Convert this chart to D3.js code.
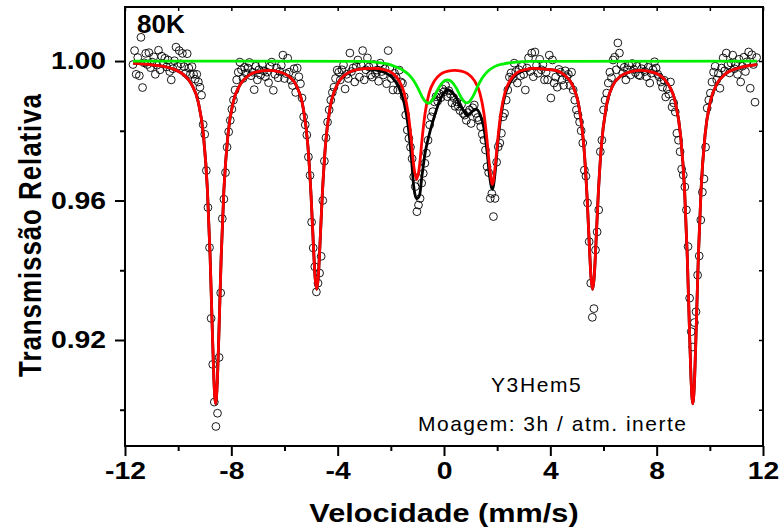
<!DOCTYPE html>
<html>
<head>
<meta charset="utf-8">
<script src="https://cdn.jsdelivr.net/npm/d3@7"></script>
<style>
  body { margin: 0; background: #fff; }
  svg { display: block; }
  text { font-family: "Liberation Sans", Arial, Helvetica, sans-serif; fill: #000; }
</style>
</head>
<body>
<svg id="chart" width="781" height="530"></svg>
<script>
// Measured spectrum: source velocity (mm/s) and relative transmission
const velocity = [
  -11.70,-11.64,-11.58,-11.52,-11.46,-11.40,-11.34,-11.28,-11.22,-11.16,
  -11.10,-11.04,-10.98,-10.92,-10.86,-10.80,-10.74,-10.68,-10.62,-10.56,
  -10.50,-10.44,-10.38,-10.32,-10.26,-10.20,-10.14,-10.08,-10.02,-9.96,
  -9.90,-9.84,-9.78,-9.72,-9.66,-9.60,-9.54,-9.48,-9.42,-9.36,
  -9.30,-9.24,-9.18,-9.12,-9.06,-9.00,-8.94,-8.88,-8.82,-8.76,
  -8.70,-8.64,-8.58,-8.52,-8.46,-8.40,-8.34,-8.28,-8.22,-8.16,
  -8.10,-8.04,-7.98,-7.92,-7.86,-7.80,-7.74,-7.68,-7.62,-7.56,
  -7.50,-7.44,-7.38,-7.32,-7.26,-7.20,-7.14,-7.08,-7.02,-6.96,
  -6.90,-6.84,-6.78,-6.72,-6.66,-6.60,-6.54,-6.48,-6.42,-6.36,
  -6.30,-6.24,-6.18,-6.12,-6.06,-6.00,-5.94,-5.88,-5.82,-5.76,
  -5.70,-5.64,-5.58,-5.52,-5.46,-5.40,-5.34,-5.28,-5.22,-5.16,
  -5.10,-5.04,-4.98,-4.92,-4.86,-4.80,-4.74,-4.68,-4.62,-4.56,
  -4.50,-4.44,-4.38,-4.32,-4.26,-4.20,-4.14,-4.08,-4.02,-3.96,
  -3.90,-3.84,-3.78,-3.72,-3.66,-3.60,-3.54,-3.48,-3.42,-3.36,
  -3.30,-3.24,-3.18,-3.12,-3.06,-3.00,-2.94,-2.88,-2.82,-2.76,
  -2.70,-2.64,-2.58,-2.52,-2.46,-2.40,-2.34,-2.28,-2.22,-2.16,
  -2.10,-2.04,-1.98,-1.92,-1.86,-1.80,-1.74,-1.68,-1.62,-1.56,
  -1.50,-1.44,-1.38,-1.32,-1.26,-1.20,-1.14,-1.08,-1.02,-0.96,
  -0.90,-0.84,-0.78,-0.72,-0.66,-0.60,-0.54,-0.48,-0.42,-0.36,
  -0.30,-0.24,-0.18,-0.12,-0.06,0.00,0.06,0.12,0.18,0.24,
  0.30,0.36,0.42,0.48,0.54,0.60,0.66,0.72,0.78,0.84,
  0.90,0.96,1.02,1.08,1.14,1.20,1.26,1.32,1.38,1.44,
  1.50,1.56,1.62,1.68,1.74,1.80,1.86,1.92,1.98,2.04,
  2.10,2.16,2.22,2.28,2.34,2.40,2.46,2.52,2.58,2.64,
  2.70,2.76,2.82,2.88,2.94,3.00,3.06,3.12,3.18,3.24,
  3.30,3.36,3.42,3.48,3.54,3.60,3.66,3.72,3.78,3.84,
  3.90,3.96,4.02,4.08,4.14,4.20,4.26,4.32,4.38,4.44,
  4.50,4.56,4.62,4.68,4.74,4.80,4.86,4.92,4.98,5.04,
  5.10,5.16,5.22,5.28,5.34,5.40,5.46,5.52,5.58,5.64,
  5.70,5.76,5.82,5.88,5.94,6.00,6.06,6.12,6.18,6.24,
  6.30,6.36,6.42,6.48,6.54,6.60,6.66,6.72,6.78,6.84,
  6.90,6.96,7.02,7.08,7.14,7.20,7.26,7.32,7.38,7.44,
  7.50,7.56,7.62,7.68,7.74,7.80,7.86,7.92,7.98,8.04,
  8.10,8.16,8.22,8.28,8.34,8.40,8.46,8.52,8.58,8.64,
  8.70,8.76,8.82,8.88,8.94,9.00,9.06,9.12,9.18,9.24,
  9.30,9.36,9.42,9.48,9.54,9.60,9.66,9.72,9.78,9.84,
  9.90,9.96,10.02,10.08,10.14,10.20,10.26,10.32,10.38,10.44,
  10.50,10.56,10.62,10.68,10.74,10.80,10.86,10.92,10.98,11.04,
  11.10,11.16,11.22,11.28,11.34,11.40,11.46,11.52,11.58,11.64,
  11.70,11.76
];
const transmission = [
  0.9990,1.0030,0.9962,1.0010,0.9958,1.0068,0.9924,0.9995,1.0022,0.9990,
  1.0024,0.9981,0.9997,1.0012,0.9962,0.9988,1.0031,0.9975,1.0014,0.9992,
  1.0008,0.9983,1.0003,0.9970,0.9946,0.9978,1.0001,1.0040,0.9985,1.0030,
  0.9992,1.0022,0.9984,0.9965,1.0021,0.9980,0.9962,0.9984,0.9962,0.9948,
  0.9962,0.9940,0.9925,0.9902,0.9818,0.9790,0.9686,0.9580,0.9465,0.9262,
  0.9130,0.9022,0.8952,0.8990,0.9150,0.9335,0.9548,0.9604,0.9680,0.9753,
  0.9797,0.9830,0.9862,0.9888,0.9917,0.9946,0.9968,0.9997,0.9975,0.9950,
  0.9982,0.9965,0.9980,0.9996,0.9958,0.9968,0.9918,0.9985,0.9946,0.9975,
  0.9960,0.9990,0.9972,0.9955,0.9968,0.9938,0.9985,0.9997,0.9916,0.9962,
  0.9980,0.9952,0.9970,0.9988,1.0017,0.9950,0.9964,1.0008,0.9968,0.9945,
  0.9930,0.9978,0.9910,0.9980,0.9955,0.9935,0.9894,0.9840,0.9817,0.9788,
  0.9725,0.9672,0.9538,0.9464,0.9410,0.9338,0.9363,0.9392,0.9440,0.9600,
  0.9713,0.9780,0.9825,0.9860,0.9888,0.9910,0.9925,0.9950,0.9974,0.9968,
  0.9946,0.9975,0.9989,0.9920,0.9962,0.9950,1.0023,0.9970,0.9980,0.9940,
  0.9985,1.0003,0.9954,0.9989,1.0030,0.9946,0.9975,1.0009,0.9983,0.9960,
  0.9954,0.9990,0.9965,0.9974,0.9942,0.9994,0.9970,0.9960,0.9978,0.9935,
  1.0030,0.9980,0.9950,0.9917,0.9965,0.9954,0.9917,0.9974,0.9940,0.9936,
  0.9898,0.9845,0.9802,0.9778,0.9753,0.9720,0.9668,0.9640,0.9568,0.9587,
  0.9606,0.9650,0.9678,0.9707,0.9736,0.9773,0.9817,0.9840,0.9855,0.9883,
  0.9898,0.9885,0.9907,0.9895,0.9920,0.9912,0.9930,0.9898,0.9915,0.9905,
  0.9880,0.9895,0.9870,0.9883,0.9870,0.9858,0.9876,0.9850,0.9845,0.9830,
  0.9852,0.9860,0.9821,0.9866,0.9874,0.9850,0.9838,0.9830,0.9812,0.9790,
  0.9773,0.9745,0.9697,0.9680,0.9606,0.9620,0.9554,0.9606,0.9710,0.9754,
  0.9765,0.9793,0.9840,0.9850,0.9888,0.9917,0.9954,0.9966,0.9950,0.9994,
  0.9970,0.9937,0.9975,0.9958,0.9985,0.9962,0.9917,0.9980,1.0009,0.9970,
  1.0023,0.9955,1.0026,0.9988,0.9965,1.0005,0.9975,0.9990,0.9946,0.9968,
  0.9946,1.0017,0.9894,1.0003,0.9937,0.9954,0.9925,0.9976,0.9968,0.9946,
  0.9930,0.9972,0.9955,0.9962,0.9930,0.9968,0.9917,0.9888,0.9860,0.9845,
  0.9825,0.9800,0.9765,0.9687,0.9670,0.9593,0.9482,0.9363,0.9265,0.9290,
  0.9458,0.9510,0.9573,0.9740,0.9773,0.9860,0.9888,0.9908,0.9937,0.9968,
  0.9952,1.0003,1.0011,0.9975,1.0052,1.0023,0.9990,0.9965,0.9982,0.9946,
  0.9975,0.9988,0.9960,0.9993,0.9976,0.9967,0.9985,0.9960,0.9958,0.9978,
  0.9990,0.9970,0.9955,0.9982,0.9937,0.9965,0.9975,0.9998,0.9980,0.9962,
  0.9954,0.9940,0.9925,0.9945,0.9897,0.9920,0.9905,0.9940,0.9868,0.9880,
  0.9854,0.9793,0.9773,0.9740,0.9690,0.9673,0.9639,0.9573,0.9468,0.9320,
  0.9224,0.9180,0.9250,0.9281,0.9386,0.9441,0.9544,0.9624,0.9662,0.9753,
  0.9865,0.9888,0.9908,0.9940,0.9968,0.9985,0.9946,0.9965,0.9922,0.9980,
  1.0009,0.9972,1.0023,0.9988,0.9966,0.9994,1.0017,0.9978,0.9992,0.9962,
  1.0005,0.9940,0.9985,1.0011,0.9970,0.9998,1.0026,0.9922,1.0018,0.9990,
  0.9882,1.0010
];

// Fitted magnetic sextet (red)
const sextetVel = [
  -11.70,-11.00,-10.30,-9.80,-9.50,-9.25,-9.05,-8.90,-8.80,-8.72,-8.66,-8.59,-8.52,-8.46,-8.38,-8.28,-8.13,-7.93,-7.68,-7.38,
  -7.00,-6.60,-6.20,-5.85,-5.55,-5.30,-5.12,-5.00,-4.91,-4.85,-4.79,-4.73,-4.67,-4.58,-4.46,-4.28,-4.03,-3.73,-3.40,-3.00,
  -2.60,-2.25,-1.95,-1.70,-1.50,-1.35,-1.23,-1.14,-1.03,-0.92,-0.83,-0.71,-0.56,-0.36,-0.11,0.15,0.40,0.65,0.90,1.15,
  1.35,1.50,1.62,1.71,1.82,1.93,2.02,2.14,2.29,2.49,2.74,3.04,3.40,3.80,4.20,4.53,4.83,5.08,5.26,5.38,
  5.47,5.53,5.59,5.65,5.71,5.80,5.92,6.10,6.35,6.65,7.00,7.40,7.78,8.10,8.42,8.70,8.90,9.05,9.15,9.23,
  9.29,9.36,9.43,9.49,9.57,9.67,9.82,10.02,10.27,10.57,11.07,11.77
];
const sextetFit = [
  0.9994,0.9989,0.9980,0.9961,0.9934,0.9884,0.9788,0.9631,0.9443,0.9240,0.9095,0.9017,0.9094,0.9239,0.9442,0.9630,0.9787,0.9882,0.9931,0.9957,
  0.9970,0.9973,0.9969,0.9957,0.9929,0.9867,0.9757,0.9613,0.9467,0.9380,0.9345,0.9380,0.9467,0.9613,0.9758,0.9868,0.9930,0.9960,0.9973,0.9978,
  0.9979,0.9975,0.9966,0.9945,0.9909,0.9852,0.9773,0.9701,0.9660,0.9700,0.9772,0.9851,0.9908,0.9943,0.9963,0.9971,0.9973,0.9971,0.9963,0.9943,
  0.9908,0.9851,0.9772,0.9700,0.9646,0.9701,0.9773,0.9852,0.9909,0.9945,0.9966,0.9975,0.9979,0.9977,0.9973,0.9960,0.9931,0.9868,0.9757,0.9613,
  0.9467,0.9380,0.9345,0.9380,0.9467,0.9613,0.9757,0.9867,0.9930,0.9957,0.9969,0.9973,0.9969,0.9960,0.9935,0.9882,0.9786,0.9630,0.9442,0.9239,
  0.9094,0.9017,0.9095,0.9240,0.9443,0.9631,0.9788,0.9884,0.9935,0.9962,0.9980,0.9990
];

// Fitted paramagnetic doublet (green)
const doubletVel = [
  -11.70,-3.00,-2.50,-2.10,-1.80,-1.55,-1.35,-1.15,-0.97,-0.82,-0.70,-0.59,-0.48,-0.35,-0.20,-0.04,
  0.13,0.30,0.46,0.60,0.73,0.85,0.97,1.10,1.27,1.45,1.65,1.90,2.25,2.70,3.20,11.77
];
const doubletFit = [
  1.0000,0.9999,0.9996,0.9991,0.9983,0.9974,0.9963,0.9945,0.9921,0.9897,0.9884,0.9879,0.9884,0.9900,0.9923,0.9940,
  0.9946,0.9940,0.9923,0.9902,0.9886,0.9880,0.9885,0.9900,0.9928,0.9953,0.9971,0.9984,0.9992,0.9997,0.9999,1.0000
];

// Total fitted envelope (black)
const totalVel = [
  -11.70,-11.00,-10.30,-9.80,-9.50,-9.25,-9.05,-8.90,-8.80,-8.72,-8.66,-8.59,-8.52,-8.46,-8.38,-8.28,-8.13,-7.93,-7.68,-7.38,
  -7.00,-6.60,-6.20,-5.85,-5.55,-5.30,-5.12,-5.00,-4.91,-4.85,-4.79,-4.73,-4.67,-4.58,-4.46,-4.28,-4.03,-3.73,-3.40,-3.00,
  -2.60,-2.25,-1.95,-1.70,-1.50,-1.35,-1.23,-1.14,-1.03,-0.92,-0.83,-0.71,-0.56,-0.36,-0.11,0.15,0.40,0.65,0.90,1.05,
  1.20,1.35,1.50,1.62,1.71,1.82,1.93,2.02,2.14,2.29,2.49,2.74,3.04,3.40,3.80,4.20,4.53,4.83,5.08,5.26,
  5.38,5.47,5.53,5.59,5.65,5.71,5.80,5.92,6.10,6.35,6.65,7.00,7.40,7.78,8.10,8.42,8.70,8.90,9.05,9.15,
  9.23,9.29,9.36,9.43,9.49,9.57,9.67,9.82,10.02,10.27,10.57,11.07,11.77
];
const totalFit = [
  0.9994,0.9989,0.9980,0.9961,0.9934,0.9884,0.9788,0.9631,0.9443,0.9240,0.9095,0.9017,0.9094,0.9239,0.9442,0.9630,0.9787,0.9882,0.9931,0.9957,
  0.9970,0.9973,0.9969,0.9957,0.9929,0.9867,0.9757,0.9613,0.9467,0.9380,0.9345,0.9380,0.9467,0.9613,0.9758,0.9868,0.9930,0.9960,0.9973,0.9978,
  0.9975,0.9968,0.9953,0.9924,0.9880,0.9815,0.9726,0.9641,0.9605,0.9615,0.9670,0.9736,0.9788,0.9842,0.9895,0.9917,0.9902,0.9868,0.9845,0.9855,
  0.9862,0.9848,0.9809,0.9740,0.9674,0.9632,0.9685,0.9760,0.9842,0.9901,0.9939,0.9963,0.9974,0.9979,0.9977,0.9973,0.9960,0.9931,0.9868,0.9757,
  0.9613,0.9467,0.9380,0.9345,0.9380,0.9467,0.9613,0.9757,0.9867,0.9930,0.9957,0.9969,0.9973,0.9969,0.9960,0.9935,0.9882,0.9786,0.9630,0.9442,
  0.9239,0.9094,0.9017,0.9095,0.9240,0.9443,0.9631,0.9788,0.9884,0.9935,0.9962,0.9980,0.9990
];

const xMajorTicks = [-12, -8, -4, 0, 4, 8, 12];
const xMinorTicks = [-10, -6, -2, 2, 6, 10];
const yMajorTicks = [0.92, 0.96, 1.00];
const yMinorTicks = [0.90, 0.94, 0.98];

const xTitle = "Velocidade (mm/s)";
const yTitle = "Transmissão Relativa";
const tempLabel = "80K";
const sampleLabel = "Y3Hem5";
const conditionLabel = "Moagem: 3h / atm. inerte";

const svg = d3.select("#chart");
const box = { left: 125, right: 763, top: 7, bottom: 446 };
const stretch = 1.18; // wide bold lettering of the axis labels

const x = d3.scaleLinear().domain([-12, 12]).range([box.left, box.right]);
const y = d3.scaleLinear().domain([0.8896, 1.0155]).range([box.bottom, box.top]);

// Measured points as open circles
const points = d3.zip(velocity, transmission);
svg.append("g")
  .selectAll("circle")
  .data(points)
  .join("circle")
  .attr("cx", d => x(d[0]))
  .attr("cy", d => y(d[1]))
  .attr("r", 3.9)
  .attr("fill", "none")
  .attr("stroke", "#000")
  .attr("stroke-width", 0.9);

// Fit curves: total envelope, sextet, doublet
const line = d3.line().x(d => x(d[0])).y(d => y(d[1])).curve(d3.curveMonotoneX);
const curves = [
  { v: totalVel, t: totalFit, color: "#000000" },
  { v: sextetVel, t: sextetFit, color: "#ff0000" },
  { v: doubletVel, t: doubletFit, color: "#00f000" }
];
svg.append("g")
  .selectAll("path")
  .data(curves)
  .join("path")
  .attr("d", c => line(d3.zip(c.v, c.t)))
  .attr("fill", "none")
  .attr("stroke", c => c.color)
  .attr("stroke-width", 2.8)
  .attr("stroke-linejoin", "round");

// Axes
const tickFont = g => g.selectAll("text")
  .style("font-family", "'Liberation Sans', Arial, sans-serif")
  .style("font-weight", "bold")
  .style("font-size", "24px")
  .attr("fill", "#000");

svg.append("g").attr("transform", `translate(0,${box.bottom})`)
  .call(d3.axisBottom(x).tickValues(xMajorTicks).tickSize(10).tickPadding(6).tickFormat(d => String(d)))
  .call(g => g.select(".domain").remove())
  .call(g => g.selectAll("line").attr("stroke-width", 2))
  .call(tickFont)
  .call(g => g.selectAll("text").attr("transform", `scale(${stretch},1)`));
svg.append("g").attr("transform", `translate(0,${box.bottom})`)
  .call(d3.axisBottom(x).tickValues(xMinorTicks).tickSize(5).tickFormat(""))
  .call(g => g.select(".domain").remove())
  .call(g => g.selectAll("line").attr("stroke-width", 2));

svg.append("g").attr("transform", `translate(${box.left},0)`)
  .call(d3.axisLeft(y).tickValues(yMajorTicks).tickSize(10).tickPadding(9).tickFormat(d3.format(".2f")))
  .call(g => g.select(".domain").remove())
  .call(g => g.selectAll("line").attr("stroke-width", 2))
  .call(tickFont)
  .call(g => g.selectAll("text").attr("x", -19 / stretch).attr("transform", `scale(${stretch},1)`));
svg.append("g").attr("transform", `translate(${box.left},0)`)
  .call(d3.axisLeft(y).tickValues(yMinorTicks).tickSize(5).tickFormat(""))
  .call(g => g.select(".domain").remove())
  .call(g => g.selectAll("line").attr("stroke-width", 2));

// Inward ticks on top and right edges
svg.append("g").attr("transform", `translate(0,${box.top})`)
  .call(d3.axisBottom(x).tickValues(xMajorTicks.concat(xMinorTicks)).tickSize(4).tickFormat(""))
  .call(g => g.select(".domain").remove())
  .call(g => g.selectAll("line").attr("stroke-width", 1.5));
svg.append("g").attr("transform", `translate(${box.right},0)`)
  .call(d3.axisLeft(y).tickValues(yMajorTicks.concat(yMinorTicks)).tickSize(4).tickFormat(""))
  .call(g => g.select(".domain").remove())
  .call(g => g.selectAll("line").attr("stroke-width", 1.5));

// Frame
svg.append("rect")
  .attr("x", box.left).attr("y", box.top)
  .attr("width", box.right - box.left).attr("height", box.bottom - box.top)
  .attr("fill", "none").attr("stroke", "#000").attr("stroke-width", 2);

// Titles and annotations
svg.append("text")
  .attr("transform", `translate(444,522) scale(${stretch},1)`)
  .attr("text-anchor", "middle")
  .style("font-weight", "bold").style("font-size", "26px")
  .text(xTitle);

svg.append("text")
  .attr("transform", `translate(41,235) scale(${stretch},1) rotate(-90)`)
  .attr("text-anchor", "middle")
  .style("font-weight", "bold").style("font-size", "26px").style("letter-spacing", "0.9px")
  .text(yTitle);

svg.append("text")
  .attr("x", 137).attr("y", 33)
  .style("font-weight", "bold").style("font-size", "26px")
  .text(tempLabel);

svg.append("text")
  .attr("x", 491).attr("y", 392)
  .style("font-size", "21px").style("letter-spacing", "1.6px")
  .text(sampleLabel);

svg.append("text")
  .attr("x", 418).attr("y", 431)
  .style("font-size", "21px").style("letter-spacing", "1.5px")
  .text(conditionLabel);
</script>
</body>
</html>
